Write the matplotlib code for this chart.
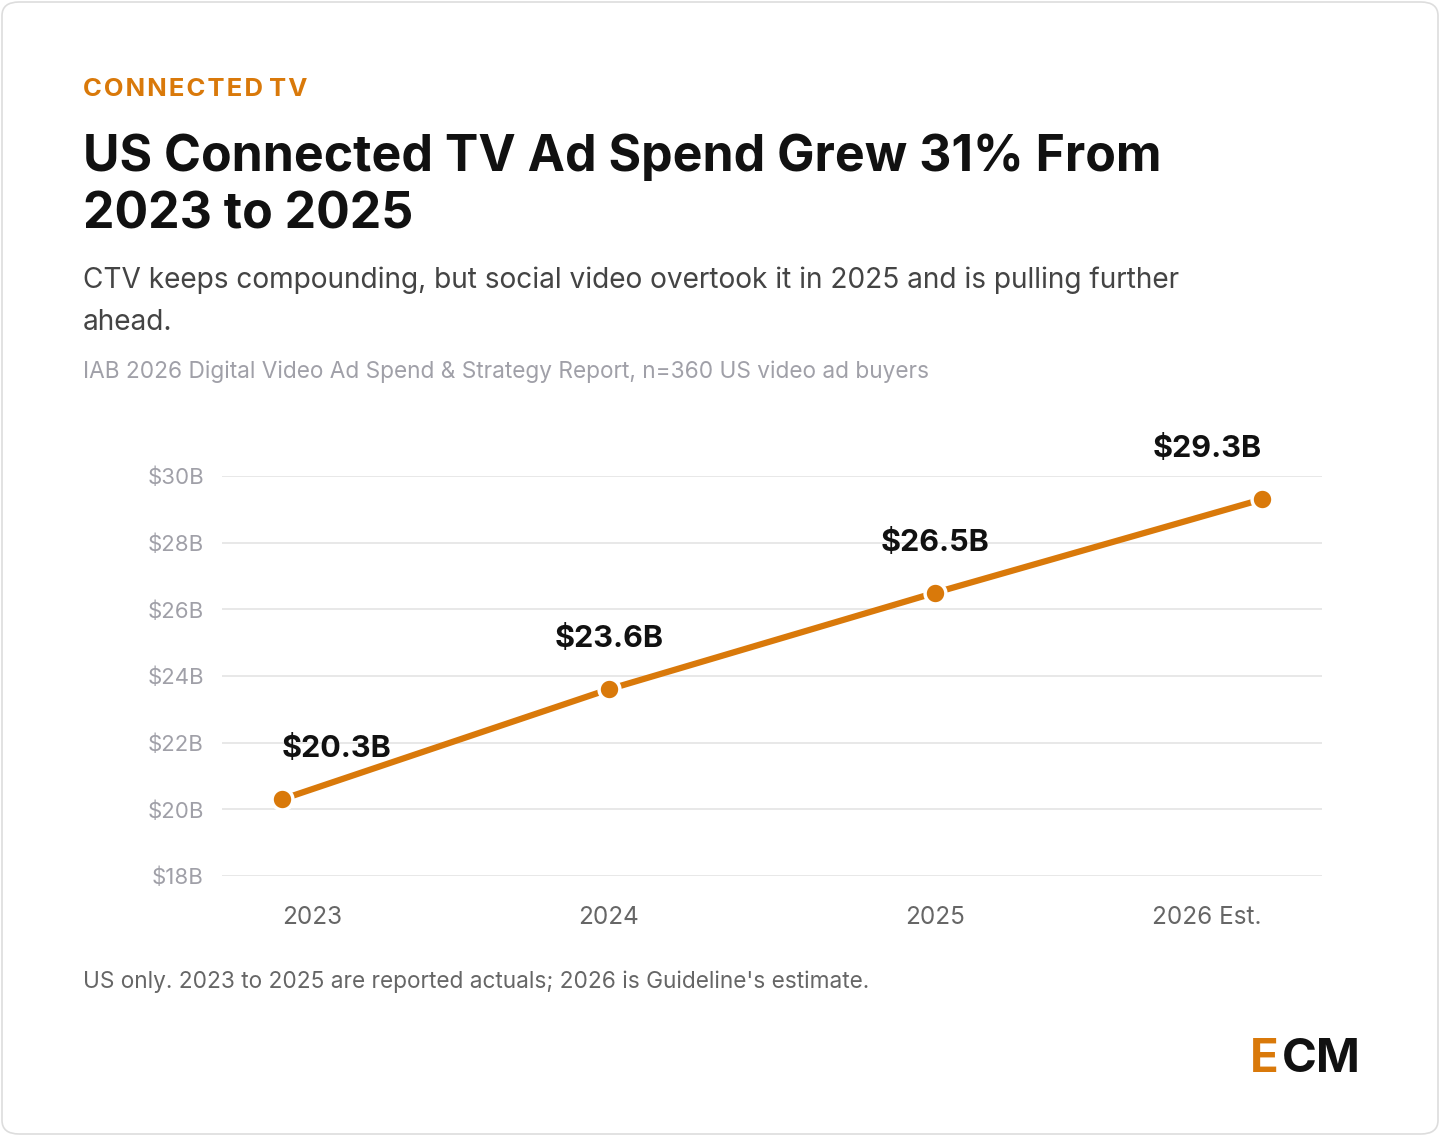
import matplotlib
matplotlib.use("Agg")
import matplotlib.pyplot as plt
from matplotlib.patches import FancyBboxPatch

plt.rcParams['font.family'] = ['Inter', 'DejaVu Sans']

# === Data ===
years = ["2023", "2024", "2025", "2026 Est."]
spend = [20.3, 23.6, 26.5, 29.3]
value_labels = ["$20.3B", "$23.6B", "$26.5B", "$29.3B"]
yticks = [18, 20, 22, 24, 26, 28, 30]

ORANGE = "#d9790a"
W, H = 1440, 1136

fig = plt.figure(figsize=(W / 100, H / 100), dpi=100)
fig.patch.set_facecolor("white")

# card border (kept behind the axes)
card = FancyBboxPatch((2 / W, 2 / H), 1 - 4 / W, 1 - 4 / H,
                      boxstyle="round,pad=0,rounding_size=0.012",
                      transform=fig.transFigure, fc="white", ec="#dddddd",
                      lw=1.2, zorder=-10)
fig.patches.append(card)

def fy(py):
    return 1 - py / H

fig.text(83 / W, fy(90), "C O N N E C T E D   T V".replace(" ", "\u200a"), color=ORANGE,
         fontsize=18.5, fontweight="bold", va="center")
fig.text(83 / W, fy(157), "US Connected TV Ad Spend Grew 31% From", fontsize=36,
         fontweight="bold", va="center", color="#111111")
fig.text(83 / W, fy(215), "2023 to 2025", fontsize=36,
         fontweight="bold", va="center", color="#111111")
fig.text(83 / W, fy(280), "CTV keeps compounding, but social video overtook it in 2025 and is pulling further",
         fontsize=20.2, va="center", color="#444444")
fig.text(83 / W, fy(322), "ahead.", fontsize=20.2, va="center", color="#444444")
fig.text(83 / W, fy(372), "IAB 2026 Digital Video Ad Spend & Strategy Report, n=360 US video ad buyers",
         fontsize=16.3, va="center", color="#a0a0a8")
fig.text(83 / W, fy(982), "US only. 2023 to 2025 are reported actuals; 2026 is Guideline's estimate.",
         fontsize=16.3, va="center", color="#666666")
fig.text(1250 / W, fy(1060), "E", fontsize=34, fontweight="bold", color=ORANGE, va="center")
fig.text(1282 / W, fy(1060), "CM", fontsize=34, fontweight="bold", color="#111111", va="center")

# === Chart ===
ax = fig.add_axes([222 / W, 1 - 876 / H, 1100 / W, 400 / H])
ax.patch.set_alpha(0)
x = list(range(len(years)))
unit = 980 / 3
ax.set_xlim(-60 / unit, 3 + 60 / unit)
ax.set_ylim(18, 30)
ax.set_yticks(yticks)
ax.set_yticklabels([f"${v}B" for v in yticks], color="#a0a0a8", fontsize=16)
ax.tick_params(axis="y", length=0, pad=13)
ax.set_xticks([])
ax.grid(axis="y", color="#e6e6e6", lw=1.3)
ax.set_axisbelow(True)
for s in ax.spines.values():
    s.set_visible(False)

ax.plot(x, spend, color=ORANGE, lw=4.5, marker="o", ms=15,
        mec="white", mew=2.5, clip_on=False, zorder=3)

# edge labels are aligned inward, like the reference
aligns = ["left", "center", "center", "right"]
for xi, v, lab, ha in zip(x, spend, value_labels, aligns):
    ax.annotate(lab, (xi, v), xytext=(0, 36), textcoords="offset points",
                ha=ha, va="center", fontsize=22, fontweight="bold",
                color="#111111", annotation_clip=False)

ylab = 18 - 42 / (400 / 12)
for xi, lab, ha in zip(x, years, aligns):
    ax.text(xi, ylab, lab, ha=ha, va="center", fontsize=17.5, color="#666666")

fig.savefig("out.png", dpi=100, facecolor="white")
